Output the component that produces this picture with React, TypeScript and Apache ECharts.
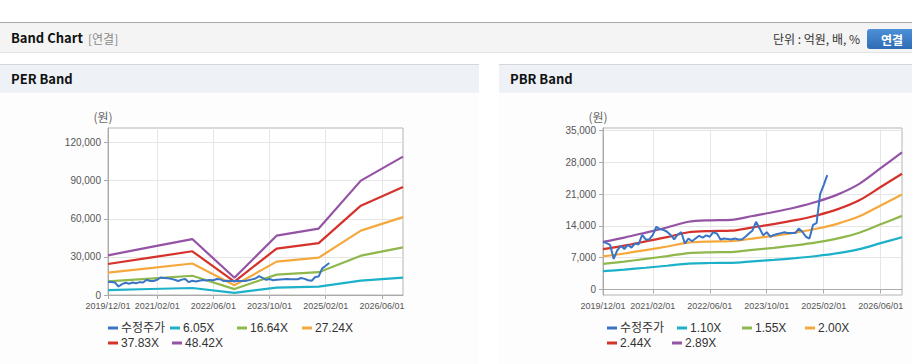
import React, { useEffect, useRef } from 'react';
import * as echarts from 'echarts';

// ---------- categories ----------
const MONTHS: string[] = (() => {
  const out: string[] = [];
  let y = 2019, m = 12;
  for (let k = 0; k < 85; k++) {
    out.push(`${y}/${String(m).padStart(2, '0')}/01`);
    m++;
    if (m > 12) { m = 1; y++; }
  }
  return out;
})();
const X_LABEL_DATES = ['2019/12/01', '2021/02/01', '2022/06/01', '2023/10/01', '2025/02/01', '2026/06/01'];

// ---------- price (수정주가), monthly from 2019/12 ----------
const PRICE = [
  10500, 10200, 9800, 6700, 8600, 9600, 8900, 9800, 9200, 10100,
  9900, 12000, 11000, 11000, 12000, 13800, 13300, 13100, 12700, 12000,
  11000, 12100, 12600, 10100, 11200, 10600, 11200, 11800, 11400, 11900,
  11600, 12600, 12300, 11000, 11200, 11100, 11000, 11200, 11000, 11000,
  11600, 12300, 13000, 14900, 13400, 11900, 12600, 11600, 12000, 12200,
  12400, 12600, 12400, 12400, 12400, 13400, 12700, 11600, 11200, 14200,
  14600, 21000, 23000, 25200,
];

// ---------- PER band (nodes at month index) ----------
const PER_NODES = [0, 12, 24, 36, 48, 60, 72, 84];
const PER_605 = [3900, 4710, 5510, 1690, 5840, 6530, 11250, 13610];
const PER_1664 = [10730, 12950, 15140, 4660, 16060, 17970, 30950, 37440];
const PER_2724 = [17570, 21190, 24790, 7630, 26290, 29420, 50670, 61290];
const PER_3783 = [24400, 29430, 34430, 10590, 36510, 40860, 70360, 85120];
const PER_4842 = [31230, 37670, 44060, 13560, 46730, 52290, 90060, 108950];
const PER_TICKS = [0, 30000, 60000, 90000, 120000];

// ---------- PBR band ----------
const PBR_NODES = [0, 6, 12, 18, 24, 30, 36, 42, 48, 54, 60, 66, 72, 78, 84];
const PBR_110 = [3990, 4350, 4760, 5190, 5680, 5800, 5830, 6160, 6490, 6880, 7350, 7980, 8860, 10180, 11500];
const PBR_155 = [5630, 6120, 6710, 7320, 8000, 8170, 8220, 8680, 9150, 9690, 10350, 11240, 12480, 14340, 16200];
const PBR_200 = [7260, 7900, 8660, 9440, 10320, 10540, 10600, 11200, 11800, 12500, 13360, 14500, 16100, 18500, 20900];
const PBR_244 = [8860, 9640, 10570, 11520, 12590, 12860, 12930, 13660, 14400, 15250, 16300, 17690, 19640, 22570, 25500];
const PBR_289 = [10490, 11420, 12510, 13640, 14910, 15230, 15320, 16180, 17050, 18060, 19310, 20950, 23270, 26730, 30200];
const PBR_TICKS = [0, 7000, 14000, 21000, 28000, 35000];

const PER_NAMES = ['6.05X', '16.64X', '27.24X', '37.83X', '48.42X'];
const PBR_NAMES = ['1.10X', '1.55X', '2.00X', '2.44X', '2.89X'];
const PRICE_NAME = '수정주가';

const C_PRICE = '#3a74c4';
const BAND_COLORS = ['#1cb1c9', '#8fb84c', '#f5a93d', '#d5322b', '#9453a4'];

const FONT = "'Liberation Sans', 'Noto Sans CJK KR', sans-serif";
const KFONT = "'Noto Sans CJK KR', 'Liberation Sans', sans-serif";

function nodeData(nodes: number[], vals: number[]) {
  const arr: (number | null)[] = MONTHS.map(() => null);
  nodes.forEach((n, k) => { arr[n] = vals[k]; });
  return arr;
}

const isLabelIdx = (i: number) => X_LABEL_DATES.includes(MONTHS[i]);

function xAxis(gridIndex: number) {
  return {
    type: 'category',
    gridIndex,
    data: MONTHS,
    boundaryGap: false,
    axisLine: { show: true, lineStyle: { color: '#aaaaaa', width: 1 } },
    axisTick: { show: true, interval: (i: number) => isLabelIdx(i), length: 4, lineStyle: { color: '#aaaaaa' } },
    axisLabel: {
      interval: (i: number) => isLabelIdx(i),
      color: '#555', fontSize: 9, fontFamily: FONT, margin: 6,
    },
    splitLine: { show: true, interval: (i: number) => isLabelIdx(i), lineStyle: { color: '#e6e6e6', width: 1 } },
  };
}

function yAxis(gridIndex: number, min: number, max: number, ticks: number[]) {
  return {
    type: 'value',
    gridIndex,
    min, max,
    name: '(원)',
    nameLocation: 'end',
    nameGap: 6,
    nameTextStyle: { color: '#666', fontSize: 12, fontFamily: KFONT, align: 'center', padding: [0, 10, 0, 0] },
    axisLine: { show: true, lineStyle: { color: '#aaaaaa' } },
    axisTick: { show: true, length: 4, customValues: ticks, lineStyle: { color: '#aaaaaa' } },
    axisLabel: {
      customValues: ticks,
      color: '#555', fontSize: 10, fontFamily: FONT, margin: 7,
      formatter: (v: number) => v.toLocaleString('en-US'),
    },
    splitLine: { show: true, lineStyle: { color: '#e6e6e6', width: 1 } },
  };
}

function lineSeries(name: string, data: (number | null)[], color: string, axis: number, width: number, z: number, smooth: number | boolean = false) {
  return {
    type: 'line', name, data, xAxisIndex: axis, yAxisIndex: axis,
    showSymbol: false, symbol: 'none', connectNulls: true, smooth,
    lineStyle: { color, width }, itemStyle: { color }, z,
    emphasis: { disabled: true },
  };
}

function legendItem(name: string, left: number, top: number) {
  return {
    data: [name], left, top, padding: 0, icon: 'rect', itemWidth: 10, itemHeight: 3, itemGap: 0,
    selectedMode: false,
    textStyle: { color: '#333', fontSize: 12, fontFamily: FONT, padding: [0, 0, 0, -2] },
  };
}

export default function App() {
  const ref = useRef<HTMLDivElement>(null);
  useEffect(() => {
    if (!ref.current) return;
    const chart = echarts.init(ref.current, undefined, { renderer: 'svg' });
    const perBands = [PER_605, PER_1664, PER_2724, PER_3783, PER_4842];
    const pbrBands = [PBR_110, PBR_155, PBR_200, PBR_244, PBR_289];
    const series: any[] = [];
    perBands.forEach((b, k) => series.push(lineSeries(PER_NAMES[k], nodeData(PER_NODES, b), BAND_COLORS[k], 0, 2.2, 2)));
    series.push(lineSeries(PRICE_NAME, PRICE, C_PRICE, 0, 2, 3));
    pbrBands.forEach((b, k) => series.push(lineSeries(PBR_NAMES[k], nodeData(PBR_NODES, b), BAND_COLORS[k], 1, 2.2, 2, 0.3)));
    series.push(lineSeries(PRICE_NAME, PRICE, C_PRICE, 1, 2, 3));

    const legendRow1 = 322, legendRow2 = 337;
    const legends = [
      legendItem(PRICE_NAME, 108, legendRow1),
      legendItem(PER_NAMES[0], 170, legendRow1),
      legendItem(PER_NAMES[1], 237, legendRow1),
      legendItem(PER_NAMES[2], 302, legendRow1),
      legendItem(PER_NAMES[3], 108, legendRow2),
      legendItem(PER_NAMES[4], 172, legendRow2),
      legendItem(PRICE_NAME, 607, legendRow1),
      legendItem(PBR_NAMES[0], 677, legendRow1),
      legendItem(PBR_NAMES[1], 742, legendRow1),
      legendItem(PBR_NAMES[2], 805, legendRow1),
      legendItem(PBR_NAMES[3], 607, legendRow2),
      legendItem(PBR_NAMES[4], 672, legendRow2),
    ];

    const bg = (x: number, y: number, w: number, h: number, fill: string) => ({
      type: 'rect', z: -10, silent: true, shape: { x, y, width: w, height: h }, style: { fill },
    });
    const hline = (x1: number, x2: number, y: number, stroke: string) => ({
      type: 'line', z: -9, silent: true, shape: { x1, y1: y, x2, y2: y }, style: { stroke, lineWidth: 1 },
    });

    chart.setOption({
      animation: false,
      backgroundColor: '#ffffff',
      grid: [
        { left: 108, top: 128, width: 295, height: 167, show: true, borderColor: '#b4b4b4', borderWidth: 1, backgroundColor: '#ffffff' },
        { left: 603, top: 128, width: 299, height: 167, show: true, borderColor: '#b4b4b4', borderWidth: 1, backgroundColor: '#ffffff' },
      ],
      xAxis: [xAxis(0), xAxis(1)],
      yAxis: [yAxis(0, 0, 131500, PER_TICKS), yAxis(1, -1260, 35600, PBR_TICKS)],
      legend: legends,
      series,
      graphic: [
        bg(0, 22, 912, 30, '#f4f4f4'),
        hline(0, 912, 22.5, '#a8a8a8'),
        hline(0, 912, 52.5, '#e2e2e2'),
        { type: 'text', silent: true, left: 11, top: 31, style: { text: 'Band Chart', fill: '#111', font: `bold 13px ${KFONT}` } },
        { type: 'text', silent: true, left: 88, top: 32, style: { text: '[연결]', fill: '#8a8a8a', font: `12px ${KFONT}` } },
        { type: 'text', silent: true, right: 52, top: 32, style: { text: '단위 : 억원, 배, %', fill: '#333', font: `12px ${KFONT}` } },
        {
          type: 'rect', silent: true, shape: { x: 867, y: 29, width: 50, height: 20, r: 3 },
          style: {
            fill: new echarts.graphic.LinearGradient(0, 0, 0, 1, [
              { offset: 0, color: '#4d90d8' }, { offset: 1, color: '#2e6cb4' },
            ]),
          },
        },
        { type: 'text', silent: true, x: 892, y: 39, style: { text: '연결', fill: '#ffffff', font: `bold 12px ${KFONT}`, align: 'center', verticalAlign: 'middle' } },

        bg(0, 64, 479, 300, '#fdfdfd'),
        bg(0, 64, 479, 29, '#eef2f7'),
        hline(0, 479, 64.5, '#d6d6d6'),
        { type: 'text', silent: true, left: 11, top: 72, style: { text: 'PER Band', fill: '#111', font: `bold 13px ${KFONT}` } },

        bg(499, 64, 413, 300, '#fdfdfd'),
        bg(499, 64, 413, 29, '#eef2f7'),
        hline(499, 912, 64.5, '#d6d6d6'),
        { type: 'text', silent: true, left: 510, top: 72, style: { text: 'PBR Band', fill: '#111', font: `bold 13px ${KFONT}` } },
      ],
    });
    return () => chart.dispose();
  }, []);
  return <div ref={ref} style={{ position: 'fixed', left: 0, top: 0, width: 912, height: 364 }} />;
}
